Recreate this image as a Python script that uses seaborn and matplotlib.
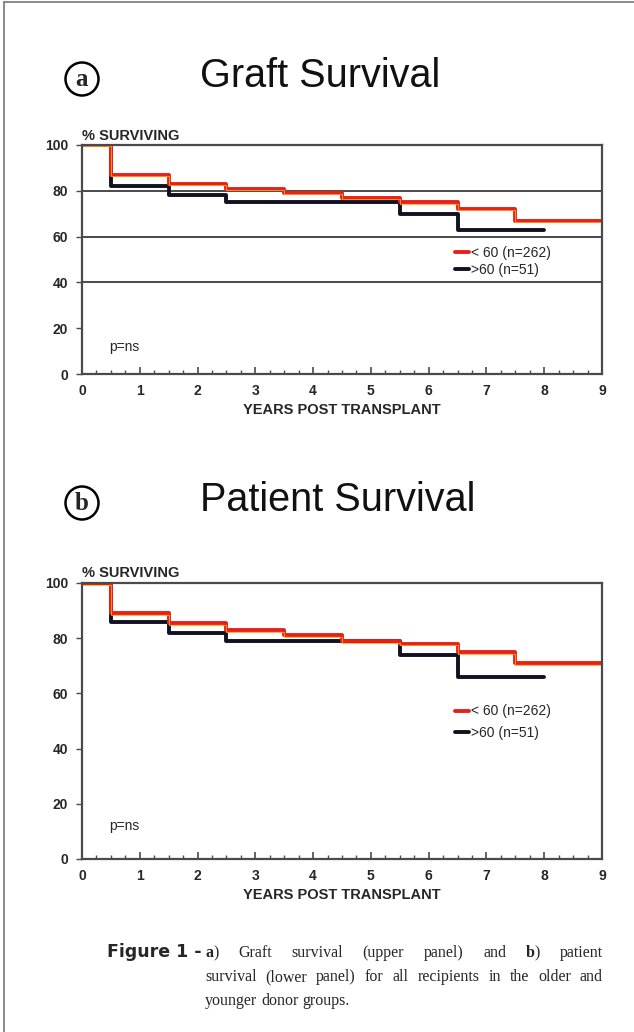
import numpy as np
import pandas as pd
import matplotlib
matplotlib.use('Agg')
import matplotlib.pyplot as plt
from matplotlib.ticker import MultipleLocator
import seaborn as sns

sns.set_style('white')
plt.rcParams['font.family'] = ['Liberation Sans', 'DejaVu Sans']

# --- data ---
graft_young_t = [0, 0.5, 1.5, 2.5, 3.5, 4.5, 5.5, 6.5, 7.5, 9]
graft_young_s = [100, 87, 83, 81, 79, 77, 75, 72, 67, 67]
graft_old_t = [0, 0.5, 1.5, 2.5, 5.5, 6.5, 8]
graft_old_s = [100, 82, 78, 75, 70, 63, 63]

patient_young_t = [0, 0.5, 1.5, 2.5, 3.5, 4.5, 5.5, 6.5, 7.5, 9]
patient_young_s = [100, 89, 85.5, 83, 81, 79, 78, 75, 71, 71]
patient_old_t = [0, 0.5, 1.5, 2.5, 5.5, 6.5, 8]
patient_old_s = [100, 86, 82, 79, 74, 66, 66]

young_label = '< 60 (n=262)'
old_label = '>60 (n=51)'
yticks = [0, 20, 40, 60, 80, 100]
xticks = list(range(10))

W, H = 634, 1032
fig = plt.figure(figsize=(W / 100, H / 100), dpi=100)


def box(left, top, right, bottom):
    return [left / W, 1 - bottom / H, (right - left) / W, (bottom - top) / H]


def panel(rect, young_t, young_s, old_t, old_s, grid, lspace):
    ax = fig.add_axes(rect)
    old = pd.DataFrame({'t': old_t, 's': old_s})
    young = pd.DataFrame({'t': young_t, 's': young_s})
    sns.lineplot(data=old, x='t', y='s', ax=ax, color='#111122', lw=2.8,
                 drawstyle='steps-post', estimator=None, sort=False, label=old_label)
    sns.lineplot(data=young, x='t', y='s', ax=ax, color='#e8201a', lw=2.8,
                 drawstyle='steps-post', estimator=None, sort=False, label=young_label)
    ax.plot(young['t'], young['s'] - 0.6, color='#ffa31a', lw=0.8,
            drawstyle='steps-post', alpha=0.8)
    ax.set_xlim(0, 9)
    ax.set_ylim(0, 100)
    ax.set_xticks(xticks)
    ax.set_yticks(yticks)
    ax.xaxis.set_minor_locator(MultipleLocator(0.25))
    for g in grid:
        ax.axhline(g, color='#4a4a4a', lw=1.4, zorder=0)
    for sp in ax.spines.values():
        sp.set_visible(True)
        sp.set_color('#4a4a4a')
        sp.set_linewidth(1.6)
    ax.tick_params(axis='x', which='major', direction='in', length=5, width=1.2,
                   color='#4a4a4a', bottom=True, pad=7, labelsize=10)
    ax.tick_params(axis='x', which='minor', direction='in', length=3, width=1.0,
                   color='#4a4a4a', bottom=True)
    ax.tick_params(axis='y', direction='out', length=4, width=1.0,
                   color='#4a4a4a', left=True, pad=6, labelsize=10)
    for lab in ax.get_xticklabels() + ax.get_yticklabels():
        lab.set_fontweight('bold')
    ax.set_xlabel('YEARS POST TRANSPLANT', fontsize=10.5, fontweight='bold', labelpad=4)
    ax.set_ylabel('')
    ax.text(0.0, 1.01, '% SURVIVING', transform=ax.transAxes, fontsize=10.5,
            fontweight='bold', ha='left', va='bottom')
    ax.text(0.47, 12, 'p=ns', fontsize=10, ha='left', va='center')
    handles, labels = ax.get_legend_handles_labels()
    ax.legend(handles[::-1], labels[::-1], loc='upper left',
              bbox_to_anchor=(0.717, 0.56), frameon=False, fontsize=10,
              handlelength=1.0, handletextpad=0.15, borderpad=0, borderaxespad=0,
              labelspacing=lspace)
    return ax


panel(box(82, 145, 602, 374), graft_young_t, graft_young_s, graft_old_t, graft_old_s,
      [80, 60, 40], 0.2)
panel(box(82, 583, 602, 859), patient_young_t, patient_young_s, patient_old_t, patient_old_s,
      [], 0.56)

# panel titles
circ = dict(boxstyle='circle,pad=0.2', fc='white', ec='black', lw=1.8)
for letter, title, yc in [('a', 'Graft Survival', 76), ('b', 'Patient Survival', 500)]:
    fig.text(82 / W, 1 - (yc + 3) / H, letter, fontsize=18, fontweight='bold',
             family='Liberation Serif', ha='center', va='center', bbox=circ)
    fig.text(200 / W, 1 - yc / H, title, fontsize=28.5, ha='left', va='center',
             color='#111111')

# caption, justified like the journal layout
fig.canvas.draw()
rend = fig.canvas.get_renderer()
cap_size = 11.5
x0, x1 = 205, 603


def seg_width(s, weight):
    t = fig.text(0, 0, s, fontsize=cap_size, family='Liberation Serif', fontweight=weight)
    w = t.get_window_extent(rend).width
    t.remove()
    return w


def put_line(words, yb, justify):
    widths = [sum(seg_width(s, wt) for s, wt in w) for w in words]
    space = seg_width('a a', 'normal') - 2 * seg_width('a', 'normal')
    gap = (x1 - x0 - sum(widths)) / (len(words) - 1) if justify else space
    x = x0
    for w, wd in zip(words, widths):
        xx = x
        for s, wt in w:
            fig.text(xx / W, 1 - yb / H, s, fontsize=cap_size, family='Liberation Serif',
                     fontweight=wt, ha='left', va='baseline')
            xx += seg_width(s, wt)
        x += wd + gap


def plain(txt):
    return [[(w, 'normal')] for w in txt.split()]


line1 = [[('a', 'bold'), (')', 'normal')]] + plain('Graft survival (upper panel) and') + \
        [[('b', 'bold'), (')', 'normal')]] + plain('patient')
line2 = plain('survival (lower panel) for all recipients in the older and')
line3 = plain('younger donor groups.')

fig.text(107 / W, 1 - 957 / H, 'Figure 1 -', fontsize=12.5, fontweight='bold',
         family='DejaVu Sans', ha='left', va='baseline')
put_line(line1, 957, True)
put_line(line2, 981, True)
put_line(line3, 1005, False)

# frame lines at the top and left edge
fig.add_artist(plt.Line2D([4 / W, 4 / W], [0, 1 - 2 / H], color='#777777', lw=1.2))
fig.add_artist(plt.Line2D([4 / W, 1], [1 - 2 / H, 1 - 2 / H], color='#777777', lw=1.2))

fig.savefig('out.png', dpi=100)
